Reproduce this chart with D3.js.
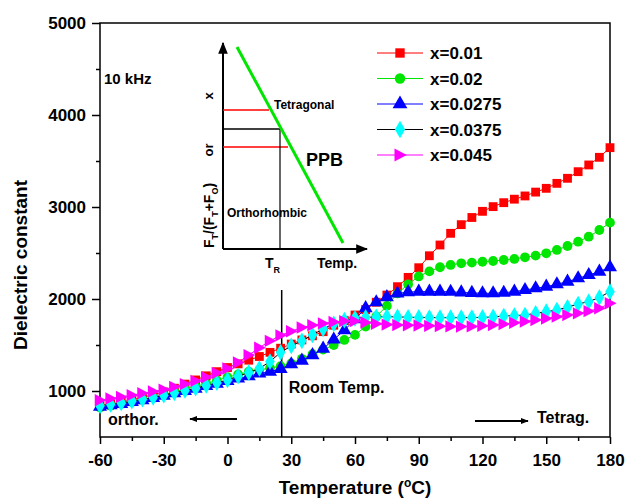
<!DOCTYPE html>
<html>
<head>
<meta charset="utf-8">
<script src="https://cdn.jsdelivr.net/npm/d3@7"></script>
<style>
body { margin: 0; background: #fff; }
svg text { font-family: "Liberation Sans", Arial, sans-serif; font-weight: bold; }
</style>
</head>
<body>
<div id="graphic"></div>
<script>
// temperatures, 5 degree steps from -60 to 180
var temps = d3.range(-60, 181, 5);

var x001 = [840, 860, 880, 905, 930, 960, 990, 1030, 1075, 1120, 1165, 1210, 1255, 1295, 1335, 1375, 1420, 1465, 1510, 1555, 1600, 1645, 1715, 1765, 1826, 1885, 1965, 2043, 2134, 2235, 2340, 2470, 2587, 2714, 2808, 2886, 2953, 3004, 3047, 3085, 3120, 3162, 3203, 3257, 3312, 3384, 3457, 3540, 3645];
var x002 = [820, 840, 860, 880, 905, 930, 960, 990, 1020, 1050, 1080, 1115, 1150, 1180, 1210, 1230, 1250, 1270, 1300, 1350, 1400, 1450, 1500, 1555, 1610, 1700, 1810, 1925, 2060, 2160, 2245, 2300, 2345, 2370, 2388, 2395, 2405, 2413, 2424, 2435, 2453, 2471, 2497, 2533, 2576, 2623, 2677, 2750, 2830];
var x0275 = [830, 845, 860, 880, 900, 925, 950, 975, 1000, 1025, 1055, 1080, 1110, 1135, 1160, 1190, 1210, 1240, 1290, 1330, 1390, 1460, 1560, 1660, 1780, 1900, 1965, 2020, 2060, 2075, 2080, 2080, 2080, 2078, 2072, 2066, 2062, 2062, 2068, 2080, 2098, 2116, 2134, 2160, 2188, 2225, 2261, 2297, 2345];
var x0375 = [840, 855, 870, 890, 910, 930, 955, 980, 1005, 1030, 1060, 1090, 1120, 1160, 1200, 1245, 1320, 1420, 1490, 1545, 1610, 1675, 1730, 1770, 1790, 1800, 1805, 1808, 1805, 1802, 1800, 1798, 1797, 1797, 1797, 1798, 1800, 1805, 1815, 1820, 1826, 1844, 1862, 1880, 1910, 1946, 1971, 2017, 2080];
var x045 = [900, 918, 936, 955, 975, 995, 1015, 1045, 1075, 1110, 1150, 1195, 1245, 1310, 1390, 1470, 1545, 1605, 1650, 1690, 1715, 1735, 1750, 1760, 1760, 1745, 1730, 1722, 1718, 1715, 1712, 1708, 1705, 1702, 1700, 1702, 1708, 1717, 1728, 1742, 1755, 1771, 1788, 1808, 1825, 1844, 1868, 1899, 1953];

var seriesNames = ["x=0.01", "x=0.02", "x=0.0275", "x=0.0375", "x=0.045"];
var seriesValues = [x001, x002, x0275, x0375, x045];
var markerColours = ["#ff0000", "#00e600", "#0000ff", "#00ffff", "#ff00ff"];
var lineColours = ["#ff0000", "#00e600", "#0000ff", "#000000", "#ff00ff"];
var symbols = [d3.symbolSquare, d3.symbolCircle, d3.symbolTriangle, d3.symbolDiamond, "right"];

var xTicks = [-60, -30, 0, 30, 60, 90, 120, 150, 180];
var yTicks = [1000, 2000, 3000, 4000, 5000];

var W = 625, H = 500;
var margin = { top: 23, right: 15, bottom: 63, left: 100 };

var svg = d3.select("#graphic").append("svg")
	.attr("width", W)
	.attr("height", H);

var x = d3.scaleLinear().domain([-60, 180]).range([margin.left, W - margin.right]);
var y = d3.scaleLinear().domain([500, 5000]).range([H - margin.bottom, margin.top]);

var plain = function(d) { return String(d); };

// frame
svg.append("rect")
	.attr("x", x(-60)).attr("y", y(5000))
	.attr("width", x(180) - x(-60)).attr("height", y(500) - y(5000))
	.attr("fill", "none").attr("stroke", "#000").attr("stroke-width", 1.5);

// x axis
var xAxis = svg.append("g")
	.attr("transform", "translate(0," + y(500) + ")")
	.call(d3.axisBottom(x).tickValues(xTicks).tickSize(7).tickPadding(10).tickFormat(plain));
xAxis.select(".domain").remove();
xAxis.selectAll(".tick line").attr("stroke-width", 1.5);
xAxis.selectAll("text").style("font-size", "17px").attr("fill", "#000");

svg.append("g")
	.attr("transform", "translate(0," + y(500) + ")")
	.call(d3.axisBottom(x).tickValues(d3.range(-45, 180, 30)).tickSize(4).tickFormat(""))
	.call(function(g) { g.select(".domain").remove(); })
	.selectAll("line").attr("stroke-width", 1.5);

// y axis
var yAxis = svg.append("g")
	.attr("transform", "translate(" + x(-60) + ",0)")
	.call(d3.axisLeft(y).tickValues(yTicks).tickSize(8).tickPadding(6).tickFormat(plain));
yAxis.select(".domain").remove();
yAxis.selectAll(".tick line").attr("stroke-width", 1.5);
yAxis.selectAll("text").style("font-size", "17px").attr("fill", "#000");

svg.append("g")
	.attr("transform", "translate(" + x(-60) + ",0)")
	.call(d3.axisLeft(y).tickValues([1500, 2500, 3500, 4500]).tickSize(4).tickFormat(""))
	.call(function(g) { g.select(".domain").remove(); })
	.selectAll("line").attr("stroke-width", 1.5);

// axis titles
var xt = svg.append("text")
	.attr("x", (x(-60) + x(180)) / 2)
	.attr("y", 494)
	.attr("text-anchor", "middle")
	.style("font-size", "19px");
xt.append("tspan").text("Temperature (");
xt.append("tspan").attr("dy", -7).style("font-size", "12px").text("o");
xt.append("tspan").attr("dy", 7).text("C)");

svg.append("text")
	.attr("transform", "translate(27,265) rotate(-90)")
	.attr("text-anchor", "middle")
	.style("font-size", "19px")
	.text("Dielectric constant");

// room temperature line
svg.append("line")
	.attr("x1", x(25.5)).attr("x2", x(25.5))
	.attr("y1", 290).attr("y2", y(500))
	.attr("stroke", "#000").attr("stroke-width", 1.5);

svg.append("text").attr("x", x(25.5) + 7).attr("y", 393).style("font-size", "16px").text("Room Temp.");
svg.append("text").attr("x", 108).attr("y", 425).style("font-size", "16px").text("orthor.");
svg.append("text").attr("x", 537).attr("y", 423).style("font-size", "16px").text("Tetrag.");
svg.append("text").attr("x", 104).attr("y", 84).style("font-size", "15px").text("10 kHz");

var defs = svg.append("defs");
defs.append("marker").attr("id", "ah")
	.attr("viewBox", "0 0 10 10").attr("refX", 9).attr("refY", 5)
	.attr("markerWidth", 6).attr("markerHeight", 6).attr("orient", "auto-start-reverse")
	.append("path").attr("d", "M0,1L10,5L0,9z").attr("fill", "#000");
defs.append("marker").attr("id", "ah2")
	.attr("viewBox", "0 0 10 10").attr("refX", 9).attr("refY", 5)
	.attr("markerWidth", 4).attr("markerHeight", 4).attr("orient", "auto-start-reverse")
	.append("path").attr("d", "M0,1L10,5L0,9z").attr("fill", "#000");

svg.append("line").attr("x1", 237).attr("y1", 419).attr("x2", 190).attr("y2", 419)
	.attr("stroke", "#000").attr("stroke-width", 2).attr("marker-end", "url(#ah2)");
svg.append("line").attr("x1", 475).attr("y1", 421).attr("x2", 528).attr("y2", 421)
	.attr("stroke", "#000").attr("stroke-width", 2).attr("marker-end", "url(#ah2)");

// series
function markerPath(s, size) {
	if (s === "right") {
		var r = Math.sqrt(size) * 0.62;
		return "M" + (-r * 0.85) + "," + (-r) + "L" + (r * 1.05) + ",0L" + (-r * 0.85) + "," + r + "Z";
	}
	return d3.symbol().type(s).size(size)();
}
var sizes = [78, 75, 85, 80, 100];

var line = d3.line()
	.x(function(d) { return x(d[0]); })
	.y(function(d) { return y(d[1]); });

seriesValues.forEach(function(vals, i) {
	var pts = temps.map(function(t, j) { return [t, vals[j]]; });
	var g = svg.append("g").attr("class", "series");
	g.append("path")
		.datum(pts)
		.attr("d", line)
		.attr("fill", "none")
		.attr("stroke", lineColours[i])
		.attr("stroke-width", 1);
	g.selectAll("path.m")
		.data(pts)
		.enter()
		.append("path")
		.attr("class", "m")
		.attr("transform", function(d) { return "translate(" + x(d[0]) + "," + y(d[1]) + ")"; })
		.attr("d", markerPath(symbols[i], sizes[i]))
		.attr("fill", markerColours[i]);
});

// legend
var legend = svg.append("g").selectAll("g")
	.data(seriesNames)
	.enter()
	.append("g")
	.attr("transform", function(d, i) { return "translate(377," + (53 + i * 25.5) + ")"; });
legend.append("line").attr("x1", 0).attr("x2", 46)
	.attr("stroke", function(d, i) { return lineColours[i]; }).attr("stroke-width", 1.2);
legend.append("path")
	.attr("transform", "translate(23,0)")
	.attr("d", function(d, i) { return markerPath(symbols[i], sizes[i] + 10); })
	.attr("fill", function(d, i) { return markerColours[i]; });
legend.append("text").attr("x", 53).attr("y", 6).style("font-size", "17px").text(function(d) { return d; });

// inset schematic
var inset = svg.append("g");
inset.append("line").attr("x1", 223).attr("y1", 249).attr("x2", 223).attr("y2", 43)
	.attr("stroke", "#000").attr("stroke-width", 2).attr("marker-end", "url(#ah)");
inset.append("line").attr("x1", 223).attr("y1", 249).attr("x2", 367).attr("y2", 249)
	.attr("stroke", "#000").attr("stroke-width", 2).attr("marker-end", "url(#ah)");
inset.append("line").attr("x1", 223).attr("y1", 110).attr("x2", 269).attr("y2", 110)
	.attr("stroke", "#ff0000").attr("stroke-width", 1.5);
inset.append("line").attr("x1", 223).attr("y1", 147).attr("x2", 288).attr("y2", 147)
	.attr("stroke", "#ff0000").attr("stroke-width", 1.5);
inset.append("line").attr("x1", 223).attr("y1", 129).attr("x2", 280).attr("y2", 129)
	.attr("stroke", "#000").attr("stroke-width", 1.5);
inset.append("line").attr("x1", 280).attr("y1", 129).attr("x2", 280).attr("y2", 249)
	.attr("stroke", "#000").attr("stroke-width", 1.2);
inset.append("line").attr("x1", 237).attr("y1", 47).attr("x2", 343).attr("y2", 243)
	.attr("stroke", "#00e600").attr("stroke-width", 3);

inset.append("text").attr("x", 274).attr("y", 109).style("font-size", "12px").text("Tetragonal");
inset.append("text").attr("x", 306).attr("y", 166).style("font-size", "18px").text("PPB");
inset.append("text").attr("x", 227).attr("y", 217).style("font-size", "12px").text("Orthorhombic");
inset.append("text").attr("x", 317).attr("y", 268).style("font-size", "14px").text("Temp.");
var tr = inset.append("text").attr("x", 265).attr("y", 268).style("font-size", "14px");
tr.append("tspan").text("T");
tr.append("tspan").attr("dy", 5).style("font-size", "9px").text("R");

var yl = inset.append("text")
	.attr("transform", "translate(214,248) rotate(-90)")
	.style("font-size", "14px");
yl.append("tspan").text("F");
yl.append("tspan").attr("dy", 4).style("font-size", "9px").text("T");
yl.append("tspan").attr("dy", -4).text("/(F");
yl.append("tspan").attr("dy", 4).style("font-size", "9px").text("T");
yl.append("tspan").attr("dy", -4).text("+F");
yl.append("tspan").attr("dy", 4).style("font-size", "9px").text("O");
yl.append("tspan").attr("dy", -4).text(")");
inset.append("text")
	.attr("transform", "translate(213,150) rotate(-90)")
	.attr("text-anchor", "middle")
	.style("font-size", "13px")
	.text("or");
inset.append("text")
	.attr("transform", "translate(213,96) rotate(-90)")
	.attr("text-anchor", "middle")
	.style("font-size", "13px")
	.text("x");
</script>
</body>
</html>
